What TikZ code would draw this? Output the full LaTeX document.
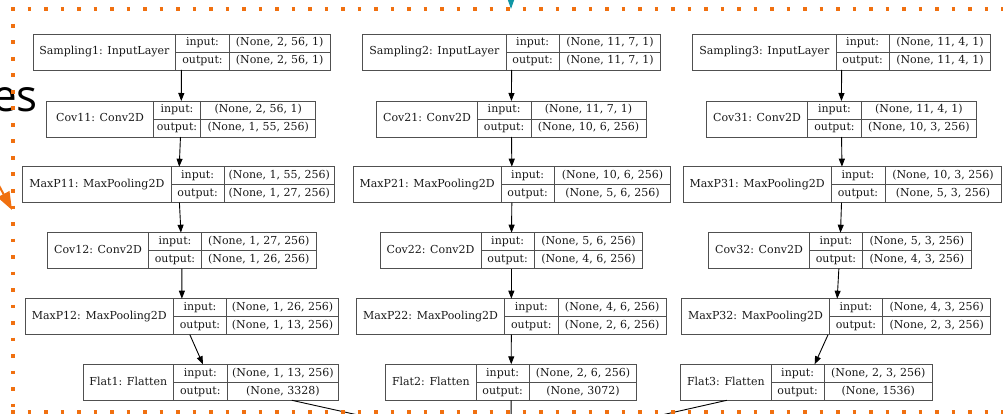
\documentclass[tikz,border=0pt]{standalone}
\usepackage{fontspec}
\setmainfont{DejaVu Serif}
\newfontfamily\esfont{Open Sans}
\usetikzlibrary{arrows.meta}
\definecolor{dotorange}{RGB}{240,112,16}
\definecolor{tealarrow}{RGB}{16,150,165}
\definecolor{boxgray}{RGB}{80,80,80}
\tikzset{
  lbox/.style={draw=boxgray, line width=0.9pt, inner sep=0pt, outer sep=0pt, minimum height=36pt, anchor=north west},
  lline/.style={draw=boxgray, line width=0.9pt},
  ltext/.style={font=\fontsize{11}{13}\selectfont, text=black!90, inner sep=0pt, text height=8pt, text depth=2.5pt},
  arr/.style={draw=black, line width=0.9pt, -{Triangle[length=8pt,width=6pt]}},
  cline/.style={draw=black, line width=0.9pt},
  dotline/.style={draw=dotorange, line width=3.6pt, dash pattern=on 3.6pt off 12.9pt},
}
\newcommand{\layerbox}[9]{%
  \node[lbox, minimum width={(#5-#2)*1pt}] (#1) at (#2,#6) {};
  \draw[lline] (#3,#6) -- (#3,#6+36) (#4,#6) -- (#4,#6+36) (#3,#6+18) -- (#5,#6+18);
  \node[ltext] (#1-t) at ({(#2+#3)/2},#6+18) {#7};
  \node[ltext] (#1-il) at ({(#3+#4)/2},#6+9) {input:};
  \node[ltext] (#1-ol) at ({(#3+#4)/2},#6+27) {output:};
  \node[ltext] (#1-i) at ({(#4+#5)/2},#6+9) {#8};
  \node[ltext] (#1-o) at ({(#4+#5)/2},#6+27) {#9};
}
\begin{document}
\begin{tikzpicture}[x=1pt,y=-1pt]
\useasboundingbox (0,0) rectangle (1003,414);
\clip (0,0) rectangle (1003,414);

% partial text at left
\node[font=\esfont\fontsize{44}{50}\selectfont, inner sep=0pt, anchor=base east] (es) at (38,112) {es};

% column 1
\layerbox{S1}{33}{175.7}{229.3}{330}{34}{Sampling1: InputLayer}{(None, 2, 56, 1)}{(None, 2, 56, 1)}
\layerbox{C11}{46.7}{153.3}{200.7}{315.7}{101}{Cov11: Conv2D}{(None, 2, 56, 1)}{(None, 1, 55, 256)}
\layerbox{M11}{22.7}{171}{224.3}{334.3}{166.7}{MaxP11: MaxPooling2D}{(None, 1, 55, 256)}{(None, 1, 27, 256)}
\layerbox{C12}{47.7}{148.3}{201.7}{316}{232.7}{Cov12: Conv2D}{(None, 1, 27, 256)}{(None, 1, 26, 256)}
\layerbox{M12}{25.3}{173.3}{226.7}{338.5}{298.7}{MaxP12: MaxPooling2D}{(None, 1, 26, 256)}{(None, 1, 13, 256)}
\layerbox{F1}{83.3}{173.3}{227.3}{338.5}{364.3}{Flat1: Flatten}{(None, 1, 13, 256)}{(None, 3328)}

% column 2
\layerbox{S2}{362.7}{506}{559.3}{660.7}{34}{Sampling2: InputLayer}{(None, 11, 7, 1)}{(None, 11, 7, 1)}
\layerbox{C21}{376.7}{477.3}{531}{646}{101}{Cov21: Conv2D}{(None, 11, 7, 1)}{(None, 10, 6, 256)}
\layerbox{M21}{353.3}{501}{554.3}{670.7}{166.7}{MaxP21: MaxPooling2D}{(None, 10, 6, 256)}{(None, 5, 6, 256)}
\layerbox{C22}{380}{481}{534.3}{642.7}{232.7}{Cov22: Conv2D}{(None, 5, 6, 256)}{(None, 4, 6, 256)}
\layerbox{M22}{356.7}{504.3}{558.3}{666}{298.7}{MaxP22: MaxPooling2D}{(None, 4, 6, 256)}{(None, 2, 6, 256)}
\layerbox{F2}{385.7}{476}{529.3}{636.7}{364.3}{Flat2: Flatten}{(None, 2, 6, 256)}{(None, 3072)}

% column 3
\layerbox{S3}{692.7}{836}{889.3}{990.7}{34}{Sampling3: InputLayer}{(None, 11, 4, 1)}{(None, 11, 4, 1)}
\layerbox{C31}{706.7}{807.3}{861.7}{976}{101}{Cov31: Conv2D}{(None, 11, 4, 1)}{(None, 10, 3, 256)}
\layerbox{M31}{683.3}{831}{885}{1001}{166.7}{MaxP31: MaxPooling2D}{(None, 10, 3, 256)}{(None, 5, 3, 256)}
\layerbox{C32}{708.7}{809.3}{862.7}{971}{232.7}{Cov32: Conv2D}{(None, 5, 3, 256)}{(None, 4, 3, 256)}
\layerbox{M32}{681.7}{829.3}{882.7}{990.7}{298.7}{MaxP32: MaxPooling2D}{(None, 4, 3, 256)}{(None, 2, 3, 256)}
\layerbox{F3}{680.7}{771}{824.3}{932.3}{364.3}{Flat3: Flatten}{(None, 2, 3, 256)}{(None, 1536)}

% connectors
\draw[arr] (S1) -- (C11);
\draw[arr] (C11) -- (M11);
\draw[arr] (M11) -- (C12);
\draw[arr] (C12) -- (M12);
\draw[arr] (M12) -- (F1);
\draw[arr] (S2) -- (C21);
\draw[arr] (C21) -- (M21);
\draw[arr] (M21) -- (C22);
\draw[arr] (C22) -- (M22);
\draw[arr] (M22) -- (F2);
\draw[arr] (S3) -- (C31);
\draw[arr] (C31) -- (M31);
\draw[arr] (M31) -- (C32);
\draw[arr] (C32) -- (M32);
\draw[arr] (M32) -- (F3);

\coordinate (cat) at (511,449);
\draw[cline] (F1) -- (cat);
\draw[cline] (F2) -- (cat);
\draw[cline] (F3) -- (cat);

% dotted frame
\coordinate (fTL) at (11.2,9.3);
\coordinate (fTR) at (1030,9.3);
\coordinate (fBL) at (11.2,412);
\coordinate (fBR) at (1030,412);
\draw[dotline] (fTL) -- (fTR);
\draw[dotline] (13,7.5) -- (13,412);
\draw[dotline] (fBL) -- (fBR);

% incoming arrowheads
\coordinate (tealfrom) at (511,-25);
\coordinate (tealto) at (511,9);
\draw[draw=tealarrow, fill=tealarrow, line width=1.2pt, -{Triangle[length=9pt,width=6pt]}] (tealfrom) -- (tealto);
\coordinate (orfrom) at (-20,150);
\coordinate (orto) at (12,210);
\draw[draw=dotorange, fill=dotorange, line width=2pt, -{Triangle[length=18pt,width=13pt]}] (orfrom) -- (orto);
\end{tikzpicture}
\end{document}
